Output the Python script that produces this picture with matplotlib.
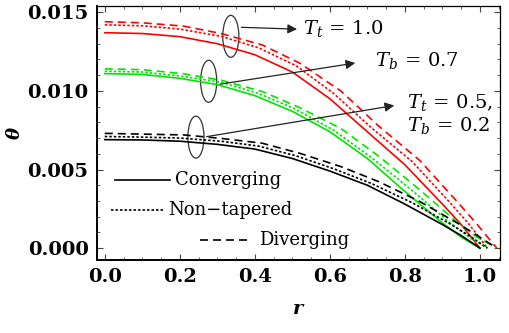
import matplotlib
matplotlib.use("Agg")
import matplotlib.pyplot as plt
from matplotlib.patches import Ellipse
from matplotlib.lines import Line2D
from matplotlib.ticker import MultipleLocator, FormatStrFormatter

plt.rcParams["font.family"] = "DejaVu Serif"
plt.rcParams["mathtext.fontset"] = "dejavuserif"

### Data
r_conv = [0.0, 0.1, 0.2, 0.3, 0.4, 0.5, 0.6, 0.7, 0.8, 0.9, 0.95, 1.0]
r_non = [0.0, 0.1, 0.2, 0.31, 0.41, 0.51, 0.61, 0.71, 0.82, 0.92, 0.97, 1.02]
r_div = [0.0, 0.1, 0.21, 0.31, 0.42, 0.52, 0.63, 0.73, 0.84, 0.94, 0.99, 1.045]

# T_t = 1.0 (red)
red_conv = [0.0137, 0.01365, 0.01345, 0.0130, 0.0123, 0.0112, 0.0095, 0.0074, 0.0053, 0.0028, 0.0015, 0.0]
red_non = [0.0142, 0.01414, 0.01393, 0.01347, 0.01274, 0.0116, 0.00984, 0.00767, 0.00549, 0.0029, 0.00155, 0.0]
red_div = [0.0144, 0.01433, 0.01412, 0.01365, 0.01292, 0.01176, 0.00998, 0.00777, 0.00557, 0.00294, 0.00158, 0.0]

# T_b = 0.7 (green)
green_conv = [0.0111, 0.01105, 0.0108, 0.0104, 0.0097, 0.0087, 0.0074, 0.0057, 0.0036, 0.0016, 0.0007, 0.0]
green_non = [0.01125, 0.0112, 0.01095, 0.01055, 0.00984, 0.00882, 0.0075, 0.00578, 0.00365, 0.00162, 0.00071, 0.0]
green_div = [0.0114, 0.01135, 0.01109, 0.01068, 0.00996, 0.00893, 0.0076, 0.00585, 0.0037, 0.00164, 0.00072, 0.0]

# T_t = 0.5, T_b = 0.2 (black)
black_conv = [0.0069, 0.00688, 0.0068, 0.0066, 0.0063, 0.0057, 0.0049, 0.0040, 0.0028, 0.0015, 0.0008, 0.0]
black_non = [0.0071, 0.00706, 0.0070, 0.0068, 0.00649, 0.00587, 0.00505, 0.00412, 0.00288, 0.00155, 0.00082, 0.0]
black_div = [0.0073, 0.00725, 0.0072, 0.00698, 0.00667, 0.00603, 0.00518, 0.00423, 0.00296, 0.00159, 0.00085, 0.0]

legend_labels = ["Converging", "Non\u2212tapered", "Diverging"]

### Plot
lw = 1.2
dotted = (0, (1.5, 1.2))
dashed = (0, (4.8, 3.0))

fig = plt.figure(figsize=(5.1, 3.33), dpi=100)
ax = fig.add_axes([0.19, 0.219, 0.79, 0.763])

for color, conv, non, div in [("#ff0000", red_conv, red_non, red_div),
                              ("#00e600", green_conv, green_non, green_div),
                              ("black", black_conv, black_non, black_div)]:
    ax.plot(r_conv, conv, color=color, lw=lw, ls="-")
    ax.plot(r_non, non, color=color, lw=lw, ls=dotted)
    ax.plot(r_div, div, color=color, lw=lw, ls=dashed)

ax.set_xlim(-0.021, 1.053)
ax.set_ylim(-0.00076, 0.0154)

# Ticks
ax.xaxis.set_major_locator(MultipleLocator(0.2))
ax.xaxis.set_minor_locator(MultipleLocator(0.05))
ax.yaxis.set_major_locator(MultipleLocator(0.005))
ax.yaxis.set_minor_locator(MultipleLocator(0.001))
ax.xaxis.set_major_formatter(FormatStrFormatter("%.1f"))
ax.yaxis.set_major_formatter(FormatStrFormatter("%.3f"))
ax.tick_params(which="both", direction="in", top=True, right=True, color="#444444")
ax.tick_params(which="major", length=4, width=0.8, labelsize=14, pad=6)
ax.tick_params(which="minor", length=2.5, width=0.6)
for lbl in ax.get_xticklabels() + ax.get_yticklabels():
    lbl.set_fontweight("bold")
for side in ["left", "bottom"]:
    ax.spines[side].set_linewidth(1.4)
for side in ["top", "right"]:
    ax.spines[side].set_linewidth(0.9)

ax.set_xlabel("r", fontsize=14, fontstyle="italic", fontweight="bold", labelpad=10)
ax.set_ylabel("\u03b8", fontsize=13, fontstyle="italic", fontweight="bold")
ax.yaxis.set_label_coords(-0.18, 0.5)

# Ellipses and arrows
for (cx, cy) in [(0.336, 0.01347), (0.277, 0.01061), (0.243, 0.00706)]:
    ax.add_patch(Ellipse((cx, cy), 0.043, 0.00267, fill=False, ec="#333333", lw=0.9))

arrowprops = dict(arrowstyle="-|>", color="#222222", lw=0.9, mutation_scale=14)
ax.annotate("", xy=(0.52, 0.01392), xytext=(0.357, 0.01405), arrowprops=arrowprops)
ax.annotate("", xy=(0.675, 0.0118), xytext=(0.30, 0.0104), arrowprops=arrowprops)
ax.annotate("", xy=(0.779, 0.0091), xytext=(0.264, 0.00706), arrowprops=arrowprops)

ax.text(0.528, 0.01398, "$T_t\\,=\\,1.0$", fontsize=14, va="center", ha="left")
ax.text(0.72, 0.01195, "$T_b\\,=\\,0.7$", fontsize=14, va="center", ha="left")
ax.text(0.805, 0.00928, "$T_t\\,=\\,0.5,$", fontsize=14, va="center", ha="left")
ax.text(0.805, 0.00782, "$T_b\\,=\\,0.2$", fontsize=14, va="center", ha="left")

# Legend (staggered, drawn by hand)
legend_items = [((0.045, 0.181), 0.315, "-", legend_labels[0], 0.194),
                ((0.035, 0.164), 0.197, dotted, legend_labels[1], 0.176),
                ((0.256, 0.377), 0.079, dashed, legend_labels[2], 0.402)]
for (x0, x1), y, ls, label, tx in legend_items:
    ax.add_line(Line2D([x0, x1], [y, y], transform=ax.transAxes, color="black", lw=lw, ls=ls))
    ax.text(tx, y, label, transform=ax.transAxes, fontsize=13, va="center", ha="left")

plt.savefig("out.png", dpi=100)
